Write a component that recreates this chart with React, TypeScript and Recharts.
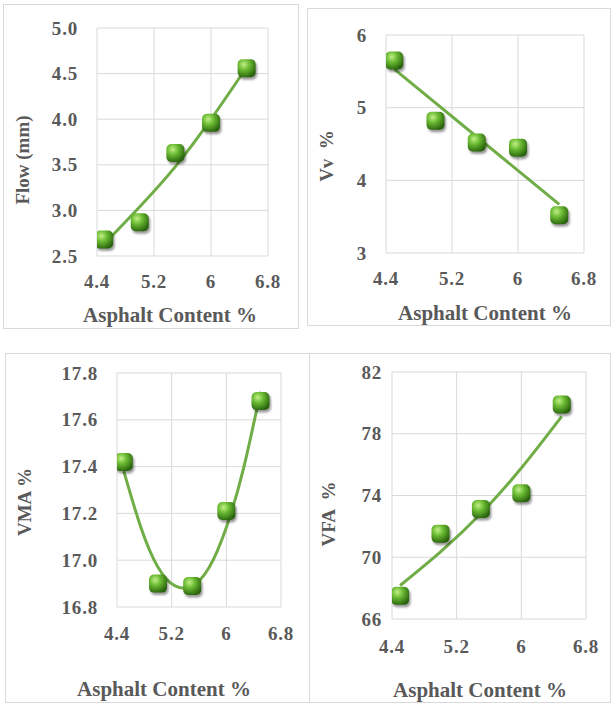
import React from 'react';
import {
  ComposedChart,
  Line,
  Scatter,
  XAxis,
  YAxis,
  CartesianGrid,
  Label,
} from 'recharts';

// asphalt content (%) for the five mixes
const asphalt = [4.5, 5.0, 5.5, 6.0, 6.5];
const xTicks = [4.4, 5.2, 6, 6.8];

const flow = [2.68, 2.87, 3.63, 3.96, 4.56];
const flowTrend = [2.63, 3.04, 3.48, 4.0, 4.57];
const flowTicks = [2.5, 3, 3.5, 4, 4.5, 5];

const vv = [5.65, 4.82, 4.52, 4.45, 3.52];
const vvTrendX = [4.5, 6.5];
const vvTrend = [5.53, 3.67];
const vvTicks = [3, 4, 5, 6];

const vma = [17.42, 16.9, 16.89, 17.21, 17.68];
const vmaTrendX = [4.5, 4.75, 5.0, 5.25, 5.5, 5.75, 6.0, 6.25, 6.5];
const vmaTrend = [17.38, 17.14, 16.97, 16.89, 16.89, 16.97, 17.14, 17.39, 17.72];
const vmaTicks = [16.8, 17.0, 17.2, 17.4, 17.6, 17.8];

const vfa = [67.5, 71.53, 73.12, 74.15, 79.9];
const vfaTrend = [68.17, 70.35, 72.83, 75.78, 79.13];
const vfaTicks = [66, 70, 74, 78, 82];

const FONT = '"Liberation Serif", "Times New Roman", serif';
const TEXT = '#595959';
const GREEN = '#70ad47';

const zip = (xs: number[], ys: number[]) => xs.map((x, i) => ({ x, y: ys[i] }));

const tickText: React.CSSProperties = {
  fill: TEXT,
  fontSize: 19,
  fontWeight: 700,
  fontFamily: FONT,
  letterSpacing: 0.8,
};

const Marker = (props: any) => {
  const { cx, cy } = props;
  if (cx == null || cy == null) return null;
  return (
    <g>
      <rect x={cx - 7.5} y={cy - 6.5} width={18} height={18} rx={5} fill="rgba(0,0,0,0.4)" filter="url(#mkShadow)" />
      <rect x={cx - 9} y={cy - 9} width={18} height={18} rx={5} fill="url(#mkGrad)" />
    </g>
  );
};

type PanelProps = {
  left: number;
  top: number;
  width: number;
  height: number;
  plot: { l: number; r: number; t: number; xh: number };
  points: { x: number; y: number }[];
  trend: { x: number; y: number }[];
  trendType: 'natural' | 'linear';
  yTicks: number[];
  yFmt: (v: number) => string;
  yGap: number;
  xGap: number;
  yTitle: string;
  yTitlePos: [number, number];
  xTitlePos: [number, number];
};

const Panel = (p: PanelProps) => {
  const titleStyle: React.CSSProperties = {
    fill: TEXT,
    fontSize: 21,
    fontWeight: 700,
    fontFamily: FONT,
    whiteSpace: 'pre',
  };
  const XTick = (t: any) => (
    <text x={t.x} y={t.y + p.xGap + 13} textAnchor="middle" style={tickText}>
      {String(t.payload.value)}
    </text>
  );
  const YTick = (t: any) => (
    <text x={t.x - p.yGap} y={t.y + 6.5} textAnchor="end" style={tickText}>
      {p.yFmt(t.payload.value)}
    </text>
  );
  return (
    <div
      style={{
        position: 'absolute',
        left: p.left,
        top: p.top,
        width: p.width,
        height: p.height,
        border: '1px solid #d9d9d9',
        boxSizing: 'border-box',
        background: '#fff',
      }}
    >
      <div style={{ position: 'absolute', left: -1, top: -1 }}>
        <ComposedChart
          width={p.width}
          height={p.height}
          margin={{ top: p.plot.t, right: p.plot.r, bottom: 0, left: 0 }}
        >
          <defs>
            <radialGradient id="mkGrad" cx="35%" cy="30%" r="75%">
              <stop offset="0%" stopColor="#c2ef88" />
              <stop offset="40%" stopColor="#6cbc34" />
              <stop offset="100%" stopColor="#28620c" />
            </radialGradient>
            <filter id="mkShadow" x="-50%" y="-50%" width="200%" height="200%">
              <feGaussianBlur stdDeviation="1.2" />
            </filter>
          </defs>
          <CartesianGrid stroke="#d9d9d9" strokeWidth={1} />
          <XAxis
            type="number"
            dataKey="x"
            domain={[4.4, 6.8]}
            ticks={xTicks}
            axisLine={false}
            tickLine={false}
            tickSize={0}
            tickMargin={0}
            height={p.plot.xh}
            tick={XTick}
            allowDataOverflow
          >
            <Label
              content={() => (
                <text x={p.xTitlePos[0]} y={p.xTitlePos[1]} textAnchor="middle" style={titleStyle}>
                  Asphalt Content %
                </text>
              )}
            />
          </XAxis>
          <YAxis
            type="number"
            dataKey="y"
            domain={[p.yTicks[0], p.yTicks[p.yTicks.length - 1]]}
            ticks={p.yTicks}
            axisLine={false}
            tickLine={false}
            tickSize={0}
            tickMargin={0}
            width={p.plot.l}
            tick={YTick}
            allowDataOverflow
          >
            <Label
              content={() => (
                <text
                  x={p.yTitlePos[0]}
                  y={p.yTitlePos[1]}
                  textAnchor="middle"
                  dominantBaseline="central"
                  transform={`rotate(-90 ${p.yTitlePos[0]} ${p.yTitlePos[1]})`}
                  style={{ ...titleStyle, fontSize: 19 }}
                >
                  {p.yTitle}
                </text>
              )}
            />
          </YAxis>
          <Line
            data={p.trend}
            dataKey="y"
            type={p.trendType}
            stroke={GREEN}
            strokeWidth={3}
            dot={false}
            activeDot={false}
            isAnimationActive={false}
          />
          <Scatter data={p.points} dataKey="y" shape={Marker} isAnimationActive={false} />
        </ComposedChart>
      </div>
    </div>
  );
};

const App = () => {
  const f1 = (v: number) => v.toFixed(1);
  const f0 = (v: number) => String(v);
  return (
    <div style={{ position: 'absolute', left: 0, top: 0, width: 611, height: 704, background: '#fff' }}>
      <Panel
        left={3}
        top={4}
        width={296}
        height={325}
        plot={{ l: 94, r: 31, t: 24, xh: 73 }}
        points={zip(asphalt, flow)}
        trend={zip(asphalt, flowTrend)}
        trendType="natural"
        yTicks={flowTicks}
        yFmt={f1}
        yGap={19}
        xGap={19}
        yTitle="Flow (mm)"
        yTitlePos={[19, 156]}
        xTitlePos={[167, 318]}
      />
      <Panel
        left={307}
        top={8}
        width={304}
        height={318}
        plot={{ l: 79, r: 27, t: 27, xh: 73 }}
        points={zip(asphalt, vv)}
        trend={zip(vvTrendX, vvTrend)}
        trendType="linear"
        yTicks={vvTicks}
        yFmt={f0}
        yGap={19}
        xGap={19}
        yTitle={'Vv  %'}
        yTitlePos={[19, 148]}
        xTitlePos={[178, 312]}
      />
      <Panel
        left={5}
        top={353}
        width={305}
        height={350}
        plot={{ l: 112, r: 29, t: 20, xh: 96 }}
        points={zip(asphalt, vma)}
        trend={zip(vmaTrendX, vmaTrend)}
        trendType="natural"
        yTicks={vmaTicks}
        yFmt={f1}
        yGap={19}
        xGap={20}
        yTitle="VMA %"
        yTitlePos={[19, 149]}
        xTitlePos={[159, 343]}
      />
      <Panel
        left={309}
        top={353}
        width={302}
        height={350}
        plot={{ l: 83, r: 25, t: 19, xh: 84 }}
        points={zip(asphalt, vfa)}
        trend={zip(asphalt, vfaTrend)}
        trendType="natural"
        yTicks={vfaTicks}
        yFmt={f0}
        yGap={10}
        xGap={21}
        yTitle={'VFA  %'}
        yTitlePos={[19, 161]}
        xTitlePos={[171, 344]}
      />
    </div>
  );
};

export default App;
